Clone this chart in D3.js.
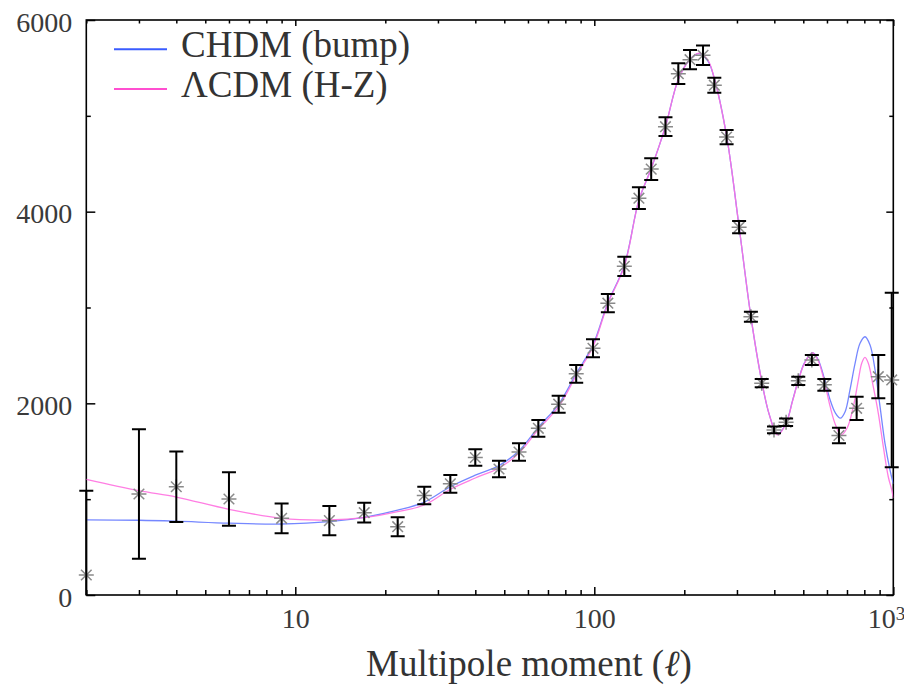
<!DOCTYPE html>
<html>
<head>
<meta charset="utf-8">
<script src="https://cdn.jsdelivr.net/npm/d3@7"></script>
<style>
  html, body { margin: 0; padding: 0; background: #fff; }
  svg { display: block; }
</style>
</head>
<body>
<div id="chart"></div>
<script>
// binned spectrum: multipole, power, 1-sigma error
const ell   = [2, 3, 4, 6, 9, 13, 17, 22, 27, 33, 40, 48, 56, 65, 76, 87, 99, 111, 126, 141, 155, 173, 191, 209, 231, 252, 277, 305, 334, 363, 399, 438, 481, 534, 588, 658, 754, 891, 988];
const power = [209, 1054, 1130, 1002, 800, 776, 859, 713, 1038, 1160, 1435, 1315, 1492, 1739, 1991, 2308, 2574, 3045, 3430, 4141, 4444, 4887, 5440, 5586, 5632, 5320, 4778, 3838, 2904, 2210, 1722, 1803, 2235, 2452, 2193, 1664, 1948, 2278, 2244];
const sigma = [880, 675, 368, 279, 155, 153, 103, 99, 92, 92, 86, 87, 91, 87, 89, 92, 94, 95, 100, 113, 113, 98, 108, 101, 101, 78, 75, 64, 52, 43, 35, 40, 43, 52, 61, 81, 122, 226, 910];

// model curves
const chdmEll   = [2, 3, 4, 6, 9, 13, 17, 22, 27, 33, 40, 48, 56, 65, 76, 87, 99, 111, 126, 141, 155, 173, 191, 209, 224, 240, 252, 277, 305, 334, 363, 385, 410, 438, 460, 481, 505, 537, 560, 588, 615, 640, 665, 690, 716, 745, 774, 804, 836, 869, 903, 938, 975, 1000];
const chdmPower = [783, 780, 770, 750, 741, 765, 810, 885, 970, 1130, 1250, 1350, 1505, 1750, 1990, 2310, 2610, 3050, 3440, 4120, 4450, 4890, 5380, 5590, 5650, 5570, 5390, 4790, 3840, 2904, 2230, 1880, 1675, 1795, 2025, 2240, 2425, 2530, 2460, 2260, 2035, 1900, 1845, 1913, 2139, 2418, 2626, 2695, 2609, 2348, 1965, 1583, 1304, 1160];
const lcdmEll   = [2, 3, 4, 6, 9, 13, 17, 22, 27, 33, 40, 48, 56, 65, 76, 87, 99, 111, 126, 141, 155, 173, 191, 209, 224, 240, 252, 277, 305, 334, 363, 385, 410, 438, 460, 481, 505, 537, 560, 588, 615, 640, 668, 700, 735, 764, 784, 804, 825, 857, 891, 926, 962, 988, 1000];
const lcdmPower = [1207, 1088, 1022, 894, 800, 783, 807, 869, 939, 1103, 1221, 1325, 1482, 1729, 1965, 2290, 2591, 3040, 3430, 4120, 4450, 4890, 5380, 5590, 5655, 5580, 5390, 4790, 3840, 2904, 2230, 1880, 1670, 1790, 2020, 2235, 2420, 2528, 2450, 2230, 1965, 1780, 1670, 1740, 1965, 2243, 2418, 2480, 2418, 2174, 1896, 1548, 1234, 1096, 1010];

const legendLabels = ['CHDM (bump)', 'ΛCDM (H-Z)'];
const legendColors = ['#3a5cff', '#ff4fd0'];

const xTicksMajor = [10, 100, 1000];
const xTicksMinor = [2, 3, 4, 5, 6, 7, 8, 9, 20, 30, 40, 50, 60, 70, 80, 90, 200, 300, 400, 500, 600, 700, 800, 900];
const yTicksMajor = [0, 2000, 4000, 6000];
const yTicksMinor = [1000, 3000, 5000];

const width = 904, height = 686;

const x = d3.scaleLog().domain([2, 1000]).range([86.3, 893.3]);
const y = d3.scaleLinear().domain([0, 6000]).range([595, 20]);
const [x0, x1] = x.range();
const [y0, y1] = y.range();

const svg = d3.select('#chart').append('svg')
  .attr('width', width).attr('height', height);

svg.append('clipPath').attr('id', 'plot-clip')
  .append('rect').attr('x', x0).attr('y', y1).attr('width', x1 - x0).attr('height', y0 - y1);

function tidy(g){
  g.select('.domain').remove();
  g.selectAll('.tick line').attr('stroke', '#000').attr('stroke-width', 1.5);
  g.selectAll('.tick text').attr('font-size', 28).attr('fill', '#3a3a3a');
}

// axes, ticks pointing inward
const bottom = svg.append('g').attr('transform', `translate(0,${y0})`)
  .call(d3.axisBottom(x).tickValues(xTicksMajor).tickSizeInner(-8).tickSizeOuter(0).tickPadding(13)
    .tickFormat(d => d === 1000 ? '' : d3.format('d')(d)))
  .call(tidy);
bottom.selectAll('.tick text').filter(d => d === 1000)
  .attr('text-anchor', 'start').attr('x', -26)
  .call(t => {
    t.append('tspan').text('10');
    t.append('tspan').attr('dy', '-0.42em').attr('font-size', 19).text('3');
  });
svg.append('g').attr('transform', `translate(0,${y0})`)
  .call(d3.axisBottom(x).tickValues(xTicksMinor).tickSizeInner(-5).tickSizeOuter(0).tickFormat(''))
  .call(tidy);

svg.append('g').attr('transform', `translate(0,${y1})`)
  .call(d3.axisTop(x).tickValues(xTicksMajor).tickSizeInner(-6).tickSizeOuter(0).tickFormat(''))
  .call(tidy);
svg.append('g').attr('transform', `translate(0,${y1})`)
  .call(d3.axisTop(x).tickValues(xTicksMinor).tickSizeInner(-3.5).tickSizeOuter(0).tickFormat(''))
  .call(tidy);

svg.append('g').attr('transform', `translate(${x0},0)`)
  .call(d3.axisLeft(y).tickValues(yTicksMajor).tickSizeInner(-9).tickSizeOuter(0).tickPadding(14)
    .tickFormat(d3.format('d')))
  .call(tidy)
  .call(g => g.selectAll('.tick text').attr('dy', '0.4em'));
svg.append('g').attr('transform', `translate(${x0},0)`)
  .call(d3.axisLeft(y).tickValues(yTicksMinor).tickSizeInner(-4.5).tickSizeOuter(0).tickFormat(''))
  .call(tidy);

svg.append('g').attr('transform', `translate(${x1},0)`)
  .call(d3.axisRight(y).tickValues(yTicksMajor).tickSizeInner(-7).tickSizeOuter(0).tickFormat(''))
  .call(tidy);
svg.append('g').attr('transform', `translate(${x1},0)`)
  .call(d3.axisRight(y).tickValues(yTicksMinor).tickSizeInner(-4).tickSizeOuter(0).tickFormat(''))
  .call(tidy);

// frame
svg.append('rect')
  .attr('x', x0).attr('y', y1).attr('width', x1 - x0).attr('height', y0 - y1)
  .attr('fill', 'none').attr('stroke', '#000').attr('stroke-width', 1.6);

// model curves
const line = d3.line().x(d => x(d[0])).y(d => y(d[1])).curve(d3.curveCatmullRom.alpha(0.5));
const plot = svg.append('g').attr('clip-path', 'url(#plot-clip)');
plot.append('path').datum(d3.zip(chdmEll, chdmPower))
  .attr('fill', 'none').attr('stroke', '#7587ff').attr('stroke-width', 1.3).attr('d', line);
plot.append('path').datum(d3.zip(lcdmEll, lcdmPower))
  .attr('fill', 'none').attr('stroke', '#ff70e0').attr('stroke-width', 1.3).attr('opacity', 0.9).attr('d', line);

// data: asterisks + error bars
const points = ell.map((l, i) => ({ l, v: power[i], e: sigma[i] }));

const asterisk = {
  draw(ctx, size){
    const r = Math.sqrt(size) / 2, d = r * Math.SQRT1_2;
    ctx.moveTo(-r, 0); ctx.lineTo(r, 0);
    ctx.moveTo(0, -r); ctx.lineTo(0, r);
    ctx.moveTo(-d, -d); ctx.lineTo(d, d);
    ctx.moveTo(-d, d); ctx.lineTo(d, -d);
  }
};
svg.append('g').selectAll('path')
  .data(points)
  .join('path')
  .attr('transform', d => `translate(${x(d.l)},${y(d.v)})`)
  .attr('d', d3.symbol().type(asterisk).size(225))
  .attr('fill', 'none').attr('stroke', '#8a8a8a').attr('stroke-width', 1.5);

const capW = 7;
const bars = svg.append('g').attr('stroke', '#000').attr('stroke-width', 2).attr('fill', 'none');
bars.selectAll('path')
  .data(points)
  .join('path')
  .attr('d', d => {
    const cx = x(d.l);
    const top = y(d.v + d.e);
    const lo = d.v - d.e;
    const bot = y(Math.max(0, lo));
    let p = `M${cx},${top}V${bot}M${cx - capW},${top}H${cx + capW}`;
    if (lo >= 0) p += `M${cx - capW},${bot}H${cx + capW}`;
    return p;
  });

// legend
const legend = svg.append('g');
legendLabels.forEach((label, i) => {
  const ly = 49.3 + i * 39.7;
  legend.append('line')
    .attr('x1', 114).attr('x2', 167).attr('y1', ly).attr('y2', ly)
    .attr('stroke', legendColors[i]).attr('stroke-width', 2);
  legend.append('text')
    .attr('x', 181).attr('y', ly + 8)
    .attr('font-size', 37).attr('fill', '#333')
    .text(label);
});

// axis title
svg.append('text')
  .attr('x', 529).attr('y', 676)
  .attr('text-anchor', 'middle')
  .attr('font-size', 37).attr('fill', '#333')
  .call(t => {
    t.append('tspan').text('Multipole moment (');
    t.append('tspan').attr('font-style', 'italic').text('ℓ');
    t.append('tspan').text(')');
  });

// serif everywhere (inline style wins over the axis' font-family attribute)
svg.selectAll('text').style('font-family', "'Liberation Serif'");
</script>
</body>
</html>
